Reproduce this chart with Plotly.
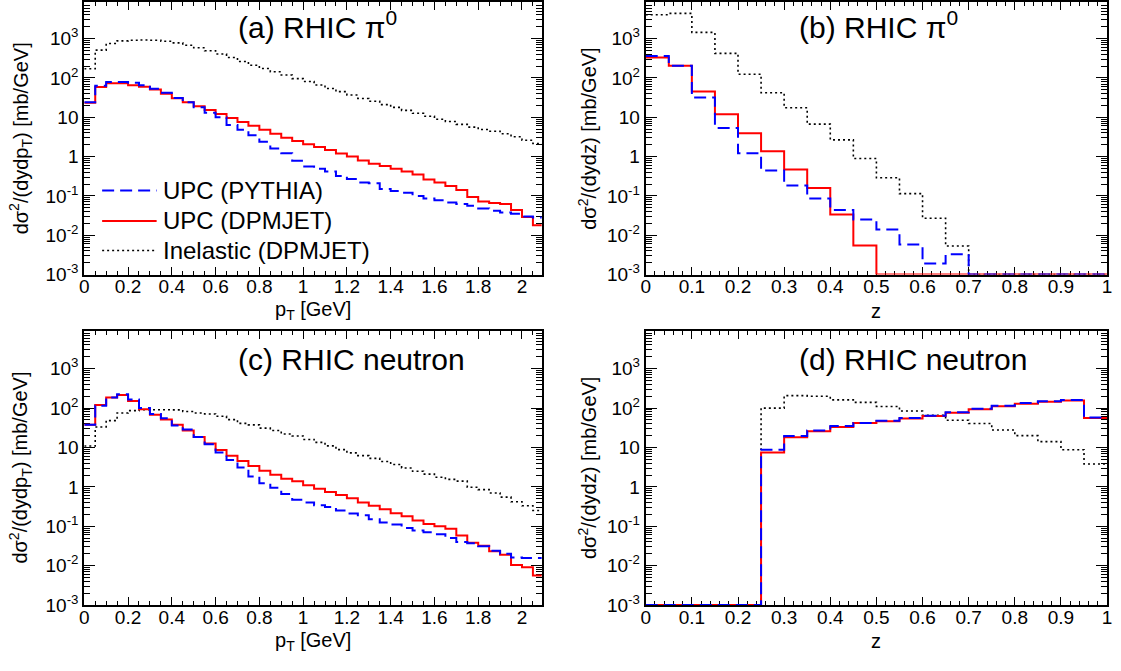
import plotly.graph_objects as go

# ---------------- data ----------------
BIN_W = 0.05
pt_edges = [round(BIN_W * i, 2) for i in range(43)]   # 0 ... 2.1 GeV
z_edges = [round(BIN_W * i, 2) for i in range(21)]    # 0 ... 1

# (a) RHIC pi0, dsigma/dy dpT [mb/GeV]
pi0_pt_pythia = [24, 63, 79.4, 79.4, 75, 65.6, 53, 42, 31, 24.2,
                 18.1, 13.1, 10, 6.4, 4.8, 3.5, 2.37, 1.6, 1.21, 0.78,
                 0.56, 0.49, 0.42, 0.32, 0.27, 0.22, 0.21, 0.15, 0.133, 0.121,
                 0.1, 0.086, 0.078, 0.068, 0.062, 0.056, 0.048, 0.042, 0.038, 0.035,
                 0.030, 0.028]
pi0_pt_dpmjet = [23.3, 58.5, 73.6, 73.6, 65.6, 59.6, 51.1, 39.8, 30.4, 24.2,
                 19.2, 15.2, 12.1, 9.6, 7.6, 6.1, 4.8, 3.8, 3.0, 2.5,
                 2.07, 1.75, 1.47, 1.19, 1.0, 0.79, 0.66, 0.58, 0.49, 0.42,
                 0.35, 0.26, 0.22, 0.178, 0.141, 0.094, 0.072, 0.066, 0.062, 0.044,
                 0.029, 0.018]
pi0_pt_inel = [171, 511, 750, 875, 910, 925, 910, 860, 780, 680,
               585, 490, 405, 330, 262, 211, 174, 144, 119, 96,
               81, 66, 54, 45, 37, 30, 25.6, 21, 17.8, 15,
               12.6, 10.6, 8.9, 7.8, 6.6, 5.6, 4.9, 4.4, 3.8, 3.2,
               2.6, 2.15]

# (b) RHIC pi0, dsigma/dy dz [mb/GeV]
pi0_z_pythia = [361, 203, 31.6, 5.3, 1.21, 0.44, 0.185, 0.086, 0.044, 0.025,
                0.014, 0.0058, 0.0019, 0.0033, 0, 0, 0, 0, 0, 0]
pi0_z_dpmjet = [329, 203, 45.5, 11.9, 3.9, 1.36, 0.47, 0.158, 0.0335, 0.0055,
                0, 0, 0, 0, 0, 0, 0, 0, 0, 0]
pi0_z_inel = [4060, 4380, 1440, 422, 124, 42, 17.5, 6.7, 2.66, 0.89,
              0.29, 0.114, 0.027, 0.0053, 0, 0, 0, 0, 0, 0]

# (c) RHIC neutron, dsigma/dy dpT [mb/GeV]
n_pt_pythia = [38, 115, 185, 225, 165, 100, 71, 55, 36, 28.7,
               18.5, 12.1, 7.4, 4.8, 3.1, 1.84, 1.23, 0.95, 0.66, 0.47,
               0.4, 0.34, 0.31, 0.25, 0.21, 0.19, 0.15, 0.125, 0.11, 0.09,
               0.078, 0.07, 0.063, 0.05, 0.04, 0.037, 0.031, 0.024, 0.02, 0.016,
               0.0155, 0.0155]
n_pt_dpmjet = [38, 119, 185, 215, 152, 94, 68, 51, 37.6, 27,
               18.5, 12.6, 8.6, 6.2, 4.55, 3.4, 2.56, 2.03, 1.6, 1.39,
               1.1, 0.89, 0.74, 0.62, 0.51, 0.4, 0.33, 0.27, 0.215, 0.178,
               0.139, 0.114, 0.1, 0.086, 0.058, 0.038, 0.032, 0.023, 0.019, 0.0104,
               0.0091, 0.0056]
n_pt_inel = [10.9, 33, 48, 75, 86, 91, 91, 91, 90, 82,
             75, 71, 62, 51, 41, 37.5, 31, 27, 22, 19.6,
             16, 13.5, 11, 8.8, 7.3, 6.2, 5.3, 4.4, 3.7, 3.0,
             2.5, 2.1, 1.75, 1.55, 1.4, 0.98, 0.85, 0.7, 0.55, 0.42,
             0.33, 0.25]

# (d) RHIC neutron, dsigma/dy dz [mb/GeV]
n_z_pythia = [0, 0, 0, 0, 0, 8.75, 19.6, 27, 35, 42,
              48, 56, 64, 78, 96, 115, 135, 150, 160, 58]
n_z_dpmjet = [0, 0, 0, 0, 0, 7.4, 18.1, 26, 33, 42,
              46, 54, 63, 76, 93, 112, 128, 144, 155, 56]
n_z_inel = [0, 0, 0, 0, 0, 100, 207, 200, 162, 140,
            110, 84, 66, 49, 40.5, 27.7, 20, 14.1, 8.75, 3.8]

panel_titles = ["(a) RHIC π<sup>0</sup>", "(b) RHIC π<sup>0</sup>",
                "(c) RHIC neutron", "(d) RHIC neutron"]
legend_labels = ["UPC (PYTHIA)", "UPC (DPMJET)", "Inelastic (DPMJET)"]
ytick_vals = [1e-3, 1e-2, 1e-1, 1, 10, 100, 1000]
ytick_text = ["10<sup>-3</sup>", "10<sup>-2</sup>", "10<sup>-1</sup>", "1", "10",
              "10<sup>2</sup>", "10<sup>3</sup>"]

# ---------------- style ----------------
W, H = 1121, 671
FONT = "Liberation Sans, Arial, Helvetica, sans-serif"
YMIN = 1e-3
BLUE, RED, BLACK = "#0000ff", "#ff0000", "#000000"
STYLES = [dict(color=BLUE, width=2, dash="12px,6px"),
          dict(color=RED, width=2, dash="solid"),
          dict(color=BLACK, width=1.6, dash="2px,3px")]

# panel pixel frames: (left, right, top, bottom)
frames = {"a": (80, 541.5, 1.5, 278.5), "b": (646.5, 1112, 1.5, 278.5),
          "c": (80, 541.5, 335.5, 615), "d": (646.5, 1112, 335.5, 615)}


def px_x(p):
    return p / W


def px_y(p):
    return 1 - p / H


fig = go.Figure()


def add_hist(edges, vals, xa, ya, style):
    y = [max(v, YMIN) for v in vals]
    y = y + [y[-1]]
    fig.add_trace(go.Scatter(x=edges, y=y, mode="lines", line_shape="hv",
                             line=style, xaxis=xa, yaxis=ya, showlegend=False,
                             hoverinfo="skip"))


panels = [
    ("a", pt_edges, [pi0_pt_pythia, pi0_pt_dpmjet, pi0_pt_inel], "x", "y"),
    ("b", z_edges, [pi0_z_pythia, pi0_z_dpmjet, pi0_z_inel], "x2", "y2"),
    ("c", pt_edges, [n_pt_pythia, n_pt_dpmjet, n_pt_inel], "x3", "y3"),
    ("d", z_edges, [n_z_pythia, n_z_dpmjet, n_z_inel], "x4", "y4"),
]
for key, edges, series, xa, ya in panels:
    # inelastic first, then DPMJET, then PYTHIA on top
    for idx in (2, 1, 0):
        add_hist(edges, series[idx], xa, ya, STYLES[idx])

minor_y = [k * 10 ** n for n in range(-3, 4) for k in range(2, 10)]
tickfont = dict(family=FONT, size=19, color="black")


def xaxis(key, rng, dtick, mdtick, anchor):
    l, r, t, b = frames[key]
    return dict(domain=[px_x(l), px_x(r)], range=rng, anchor=anchor,
                showline=True, linewidth=2, linecolor="black", mirror="allticks",
                ticks="inside", ticklen=8, tickwidth=1, tickcolor="black",
                tick0=0, dtick=dtick, ticklabelstandoff=-6,
                minor=dict(ticks="inside", ticklen=4, tick0=0, dtick=mdtick,
                           tickcolor="black", tickwidth=1, showgrid=False),
                showgrid=False, zeroline=False, tickfont=tickfont,
                layer="below traces")


def yaxis(key, top, anchor):
    l, r, t, b = frames[key]
    return dict(domain=[px_y(b), px_y(t)], type="log", range=[-3, top],
                anchor=anchor, showline=True, linewidth=2, linecolor="black",
                mirror="allticks", ticks="inside", ticklen=11, tickwidth=1,
                tickcolor="black", tickmode="array", tickvals=ytick_vals,
                ticktext=ytick_text,
                minor=dict(ticks="inside", ticklen=6, tickmode="array",
                           tickvals=minor_y, tickcolor="black", tickwidth=1,
                           showgrid=False),
                showgrid=False, zeroline=False, tickfont=tickfont,
                layer="below traces")


fig.update_layout(
    width=W, height=H, margin=dict(l=0, r=0, t=0, b=0),
    paper_bgcolor="white", plot_bgcolor="white",
    font=dict(family=FONT, color="black"),
    xaxis=xaxis("a", [0, 2.09], 0.2, 0.05, "y"),
    yaxis=yaxis("a", 3.92, "x"),
    xaxis2=xaxis("b", [0, 1], 0.1, 0.02, "y2"),
    yaxis2=yaxis("b", 3.92, "x2"),
    xaxis3=xaxis("c", [0, 2.09], 0.2, 0.05, "y3"),
    yaxis3=yaxis("c", 3.97, "x3"),
    xaxis4=xaxis("d", [0, 1], 0.1, 0.02, "y4"),
    yaxis4=yaxis("d", 3.97, "x4"),
)

ann = []
ytitles = {"a": "dσ<sup>2</sup>/(dydp<sub>T</sub>) [mb/GeV]",
           "b": "dσ<sup>2</sup>/(dydz) [mb/GeV]",
           "c": "dσ<sup>2</sup>/(dydp<sub>T</sub>) [mb/GeV]",
           "d": "dσ<sup>2</sup>/(dydz) [mb/GeV]"}
ytitle_dx = {"a": 64, "b": 59, "c": 64, "d": 59}
xtitles = {"a": "p<sub>T</sub> [GeV]", "b": "z", "c": "p<sub>T</sub> [GeV]", "d": "z"}
title_dy = {"a": 23, "b": 23, "c": 30, "d": 30}
for i, key in enumerate(["a", "b", "c", "d"]):
    l, r, t, b = frames[key]
    ann.append(dict(text=panel_titles[i], x=px_x(l + 153), y=px_y(t + title_dy[key]),
                    xref="paper", yref="paper", xanchor="left", yanchor="middle",
                    showarrow=False, font=dict(family=FONT, size=30, color="black")))
    ann.append(dict(text=ytitles[key], x=px_x(l - ytitle_dx[key]), y=px_y((t + b) / 2),
                    xref="paper", yref="paper", xanchor="center", yanchor="middle",
                    textangle=-90, showarrow=False,
                    font=dict(family=FONT, size=20, color="black")))
    ann.append(dict(text=xtitles[key], x=px_x((l + r) / 2), y=px_y(b + 37),
                    xref="paper", yref="paper", xanchor="center", yanchor="middle",
                    showarrow=False, font=dict(family=FONT, size=20, color="black")))

# legend drawn inside panel (a)
shapes = []
leg_y = [193, 224, 254]
for st, lab, yy in zip(STYLES, legend_labels, leg_y):
    shapes.append(dict(type="line", xref="paper", yref="paper",
                       x0=px_x(98), x1=px_x(153), y0=px_y(yy), y1=px_y(yy),
                       line=st))
    ann.append(dict(text=lab, x=px_x(157), y=px_y(yy), xref="paper", yref="paper",
                    xanchor="left", yanchor="middle", showarrow=False,
                    font=dict(family=FONT, size=24, color="black")))

fig.update_layout(annotations=ann, shapes=shapes)
fig.write_html("out.html", config={"displayModeBar": False},
               post_script="document.body.style.margin='0';"
                           "document.body.style.padding='0';")
